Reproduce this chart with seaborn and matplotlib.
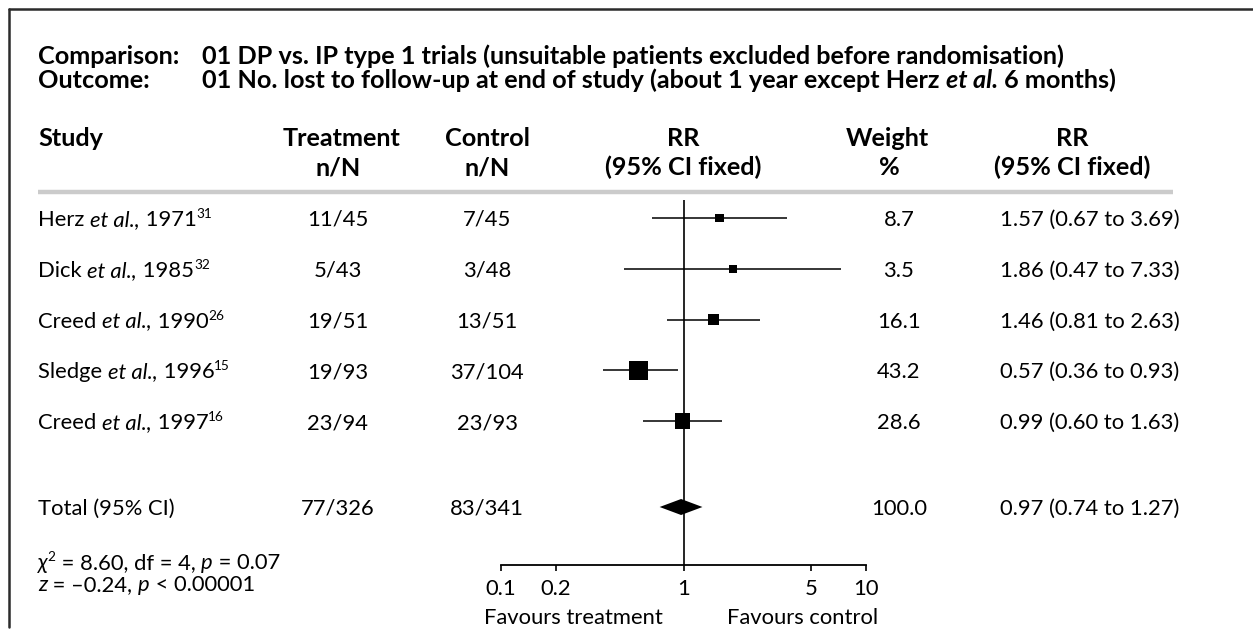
import numpy as np
import pandas as pd
import matplotlib
matplotlib.use("Agg")
import matplotlib.pyplot as plt
from matplotlib.lines import Line2D
from matplotlib.ticker import FixedLocator, NullLocator
import seaborn as sns

# ---------------- data ----------------
studies = ["Herz", "Dick", "Creed", "Sledge", "Creed"]
years = ["1971", "1985", "1990", "1996", "1997"]
refs = ["31", "32", "26", "15", "16"]
treatment = ["11/45", "5/43", "19/51", "19/93", "23/94"]
control = ["7/45", "3/48", "13/51", "37/104", "23/93"]
rr = [1.57, 1.86, 1.46, 0.57, 0.99]
ci_low = [0.67, 0.47, 0.81, 0.36, 0.60]
ci_high = [3.69, 7.33, 2.63, 0.93, 1.63]
weight = [8.7, 3.5, 16.1, 43.2, 28.6]

total_treatment = "77/326"
total_control = "83/341"
total_rr = 0.97
total_low = 0.74
total_high = 1.27
total_weight = 100.0

ticks = [0.1, 0.2, 1, 5, 10]
tick_labels = ["0.1", "0.2", "1", "5", "10"]

title1 = "01 DP vs. IP type 1 trials (unsuitable patients excluded before randomisation)"

# ---------------- style ----------------
sns.set_theme(style="white")
plt.rcParams["font.family"] = ["Lato", "DejaVu Sans"]

W, H = 1253, 635
fig = plt.figure(figsize=(W / 100, H / 100), dpi=100)
fig.patch.set_facecolor("white")
renderer = fig.canvas.get_renderer()


def fx(x):
    return x / W


def fy(y):
    return 1 - y / H


def text_width(s, **kw):
    t = fig.text(0, 0, "|" + s + "|", **kw)
    w1 = t.get_window_extent(renderer).width
    t.remove()
    t = fig.text(0, 0, "||", **kw)
    w0 = t.get_window_extent(renderer).width
    t.remove()
    return w1 - w0


# font sizes fitted to the reference text widths
FB = 17 * 866 / text_width(title1, fontsize=17, fontweight="bold")
FS = 16 * 180 / text_width("1.57 (0.67 to 3.69)", fontsize=16)


def rich(x, y, segments, ha="left"):
    """segments: list of (text, kwargs, raise_px). y = visual centre in px."""
    prepared = []
    total = 0.0
    for s, kw, up in segments:
        kw = dict(kw)
        kw.setdefault("fontsize", FS)
        kw.setdefault("color", "black")
        w = text_width(s, **kw)
        prepared.append((s, kw, up, w))
        total += w
    base_size = prepared[0][1]["fontsize"] * 100 / 72
    baseline = y + 0.36 * base_size
    cx = x if ha == "left" else (x - total / 2 if ha == "center" else x - total)
    for s, kw, up, w in prepared:
        fig.text(fx(cx), fy(baseline - up), s, ha="left", va="baseline", **kw)
        cx += w


def put(x, y, s, ha="left", bold=False, size=None):
    size = size or (FB if bold else FS)
    rich(x, y, [(s, dict(fontsize=size, fontweight="bold" if bold else "normal"), 0)], ha=ha)


R = dict(fontsize=FS)
I = dict(fontsize=FS, fontstyle="italic")
B = dict(fontsize=FB, fontweight="bold")
BI = dict(fontsize=FB, fontweight="bold", fontstyle="italic")
SUP = dict(fontsize=FS * 0.62)

# frame (top & left edges)
fig.add_artist(Line2D([fx(9), fx(W)], [fy(9), fy(9)], color="#2b2b2b", lw=1.8))
fig.add_artist(Line2D([fx(9), fx(9)], [fy(9), fy(627)], color="#2b2b2b", lw=1.8))

# title lines
put(38, 55, "Comparison:", bold=True)
put(202, 55, title1, bold=True)
put(38, 79, "Outcome:", bold=True)
rich(202, 79, [("01 No. lost to follow-up at end of study (about 1 year except Herz ", B, 0),
               ("et al.", BI, 0), (" 6 months)", B, 0)])

# headers
h1, h2 = 137, 166
put(38, h1, "Study", bold=True)
put(342, h1, "Treatment", ha="center", bold=True)
put(338, h2, "n/N", ha="center", bold=True)
put(487, h1, "Control", ha="center", bold=True)
put(487, h2, "n/N", ha="center", bold=True)
put(683, h1, "RR", ha="center", bold=True)
put(683, h2, "(95% CI fixed)", ha="center", bold=True)
put(887, h1, "Weight", ha="center", bold=True)
put(889, h2, "%", ha="center", bold=True)
put(1072, h1, "RR", ha="center", bold=True)
put(1072, h2, "(95% CI fixed)", ha="center", bold=True)

fig.add_artist(Line2D([fx(38), fx(1173)], [fy(192), fy(192)], color="#cbcbcb", lw=3.2,
                      solid_capstyle="butt"))

# row layout (pixels)
row0, step = 218, 50.8
total_row = (507 - row0) / step

for i in range(len(studies)):
    y = row0 + step * i
    rich(38, y, [(studies[i] + " ", R, 0), ("et al.,", I, 0), (" " + years[i], R, 0),
                 (refs[i], SUP, 8)])
    put(338, y, treatment[i], ha="center")
    put(487, y, control[i], ha="center")
    put(899, y, f"{weight[i]:.1f}", ha="center")
    put(1090, y, f"{rr[i]:.2f} ({ci_low[i]:.2f} to {ci_high[i]:.2f})", ha="center")

yt = row0 + step * total_row
put(38, yt, "Total (95% CI)")
put(338, yt, total_treatment, ha="center")
put(487, yt, total_control, ha="center")
put(899, yt, f"{total_weight:.1f}", ha="center")
put(1090, yt, f"{total_rr:.2f} ({total_low:.2f} to {total_high:.2f})", ha="center")

rich(38, 561, [("\u03c7", I, 0), ("2", SUP, 8), (" = 8.60, df = 4, ", R, 0), ("p", I, 0), (" = 0.07", R, 0)])
rich(38, 583, [("z", I, 0), (" = \u20130.24, ", R, 0), ("p", I, 0), (" < 0.00001", R, 0)])

# ---------------- forest axes ----------------
ax_top, ax_bot = 200, 565
left_px, right_px = 501, 866
ax = fig.add_axes([fx(left_px), fy(ax_bot), (right_px - left_px) / W, (ax_bot - ax_top) / H])
ax.set_xscale("log")
ax.set_xlim(0.1, 10)
ax.set_ylim((ax_bot - row0) / step, (ax_top - row0) / step)
ax.patch.set_alpha(0)
for s in ["top", "right", "left"]:
    ax.spines[s].set_visible(False)
ax.spines["bottom"].set_color("black")
ax.spines["bottom"].set_linewidth(1.3)
ax.xaxis.set_major_locator(FixedLocator(ticks))
ax.xaxis.set_minor_locator(NullLocator())
ax.set_xticklabels(tick_labels)
ax.tick_params(axis="x", direction="out", length=4, width=1.2, color="black",
               labelsize=FS, pad=6, bottom=True, labelcolor="black")
ax.set_yticks([])

ax.axvline(1, color="black", lw=1.2, zorder=1)

df = pd.DataFrame({"rr": rr, "lo": ci_low, "hi": ci_high, "w": weight,
                   "row": np.arange(len(rr), dtype=float)})
ax.hlines(df["row"], df["lo"], df["hi"], color="black", lw=1.1, zorder=2)
side_pt = np.maximum(2.9 * np.sqrt(df["w"]), 8.0) * 0.72
df["area"] = side_pt ** 2
sns.scatterplot(data=df, x="rr", y="row", size="area",
                sizes=(df["area"].min(), df["area"].max()),
                size_norm=(df["area"].min(), df["area"].max()),
                marker="s", color="black", edgecolor="none", legend=False,
                ax=ax, zorder=3)
ax.set_xlabel("")
ax.set_ylabel("")

dh = 8 / step
ax.fill([total_low, total_rr, total_high, total_rr],
        [total_row, total_row - dh, total_row, total_row + dh],
        color="black", zorder=3, lw=0)

put(573, 616, "Favours treatment", ha="center")
put(803, 616, "Favours control", ha="center")

fig.savefig("out.png", dpi=100, facecolor="white")
